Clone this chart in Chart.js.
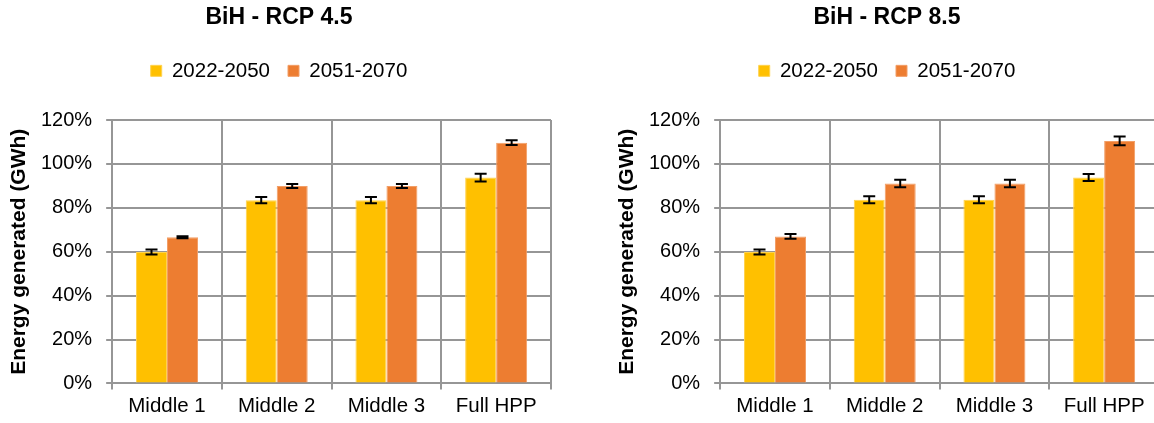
<!DOCTYPE html>
<html>
<head>
<meta charset="utf-8">
<script src="https://cdn.jsdelivr.net/npm/chart.js@4"></script>
<style>
  html, body { margin: 0; padding: 0; background: #fff; overflow: hidden; width: 1154px; height: 423px; }
  .box { position: absolute; top: 0; width: 554px; height: 423px; }
</style>
</head>
<body>
<div class="box" style="left:0"><canvas id="rcp45"></canvas></div>
<div class="box" style="left:608px"><canvas id="rcp85"></canvas></div>
<script>
// data (percent)
const categories = ["Middle 1", "Middle 2", "Middle 3", "Full HPP"];
const periods = ["2022-2050", "2051-2070"];

const rcp45Early = [59.9, 83.5, 83.5, 93.8];
const rcp45Late = [66.6, 90.0, 90.0, 109.7];
const rcp45EarlyErr = [1.1, 1.4, 1.4, 1.8];
const rcp45LateErr = [0.5, 0.9, 0.9, 1.1];

const rcp85Early = [59.9, 83.7, 83.7, 93.8];
const rcp85Late = [67.0, 91.1, 91.1, 110.5];
const rcp85EarlyErr = [1.1, 1.6, 1.6, 1.6];
const rcp85LateErr = [1.1, 1.7, 1.7, 2.0];

const yTicks = [0, 20, 40, 60, 80, 100, 120];

const fontFamily = '"Liberation Sans", Arial, sans-serif';
const gridColor = "#969696";

// error bars drawn on top of the bars, using the y scale
const errorBars = {
  id: "errorBars",
  afterDatasetsDraw(chart) {
    const ctx = chart.ctx;
    const y = chart.scales.y;
    ctx.save();
    ctx.strokeStyle = "#000";
    ctx.lineWidth = 2;
    chart.data.datasets.forEach((ds, i) => {
      chart.getDatasetMeta(i).data.forEach((bar, j) => {
        const top = y.getPixelForValue(ds.data[j] + ds.errors[j]);
        const bot = y.getPixelForValue(ds.data[j] - ds.errors[j]);
        ctx.beginPath();
        ctx.moveTo(bar.x, top);
        ctx.lineTo(bar.x, bot);
        ctx.moveTo(bar.x - 6, top);
        ctx.lineTo(bar.x + 6, top);
        ctx.moveTo(bar.x - 6, bot);
        ctx.lineTo(bar.x + 6, bot);
        ctx.stroke();
      });
    });
    ctx.restore();
  },
};

// extra room between legend and plot
const legendSpace = {
  id: "legendSpace",
  beforeLayout(chart) {
    const legend = chart.legend;
    if (!legend || legend._spaced) return;
    const fit = legend.fit;
    legend.fit = function () {
      fit.call(this);
      this.height += 29;
    };
    legend._spaced = true;
  },
};

const makeChart = (id, title, early, late, earlyErr, lateErr) => {
  const canvas = document.getElementById(id);
  canvas.width = 554;
  canvas.height = 423;
  return new Chart(canvas.getContext("2d"), {
    type: "bar",
    data: {
      labels: categories,
      datasets: [
        {
          label: periods[0],
          data: early,
          errors: earlyErr,
          backgroundColor: "#FFC000",
          borderColor: "#FFD24D",
          borderWidth: 1,
        },
        {
          label: periods[1],
          data: late,
          errors: lateErr,
          backgroundColor: "#ED7D31",
          borderColor: "#F29E66",
          borderWidth: 1,
        },
      ],
    },
    options: {
      responsive: false,
      animation: false,
      categoryPercentage: 0.565,
      barPercentage: 1.0,
      layout: { padding: { left: 7, right: 3, top: 0, bottom: 0 } },
      plugins: {
        tooltip: { enabled: false },
        title: {
          display: true,
          text: title,
          color: "#000",
          font: { family: fontFamily, size: 23, weight: "bold" },
          padding: { top: 4, bottom: 11 },
        },
        legend: {
          position: "top",
          labels: {
            boxWidth: 11,
            boxHeight: 11,
            padding: 18,
            color: "#000",
            font: { family: fontFamily, size: 20.5 },
          },
        },
      },
      scales: {
        x: {
          offset: true,
          grid: { offset: true, color: gridColor, lineWidth: 2, tickLength: 6 },
          border: { color: gridColor, width: 2 },
          ticks: { color: "#000", padding: 4.5, font: { family: fontFamily, size: 20.5 } },
        },
        y: {
          min: 0,
          max: 120,
          afterBuildTicks: (scale) => {
            scale.ticks = yTicks.map((v) => ({ value: v }));
          },
          grid: { color: gridColor, lineWidth: 2, tickLength: 6 },
          border: { color: gridColor, width: 2 },
          ticks: {
            color: "#000",
            padding: 14,
            font: { family: fontFamily, size: 20 },
            callback: (v) => v + "%",
          },
          title: {
            display: true,
            text: "Energy generated (GWh)",
            color: "#000",
            font: { family: fontFamily, size: 21, weight: "bold" },
            padding: { top: 0, bottom: -5.2 },
          },
        },
      },
    },
    plugins: [errorBars, legendSpace],
  });
};

makeChart("rcp45", "BiH - RCP 4.5", rcp45Early, rcp45Late, rcp45EarlyErr, rcp45LateErr);
makeChart("rcp85", "BiH - RCP 8.5", rcp85Early, rcp85Late, rcp85EarlyErr, rcp85LateErr);
</script>
</body>
</html>
